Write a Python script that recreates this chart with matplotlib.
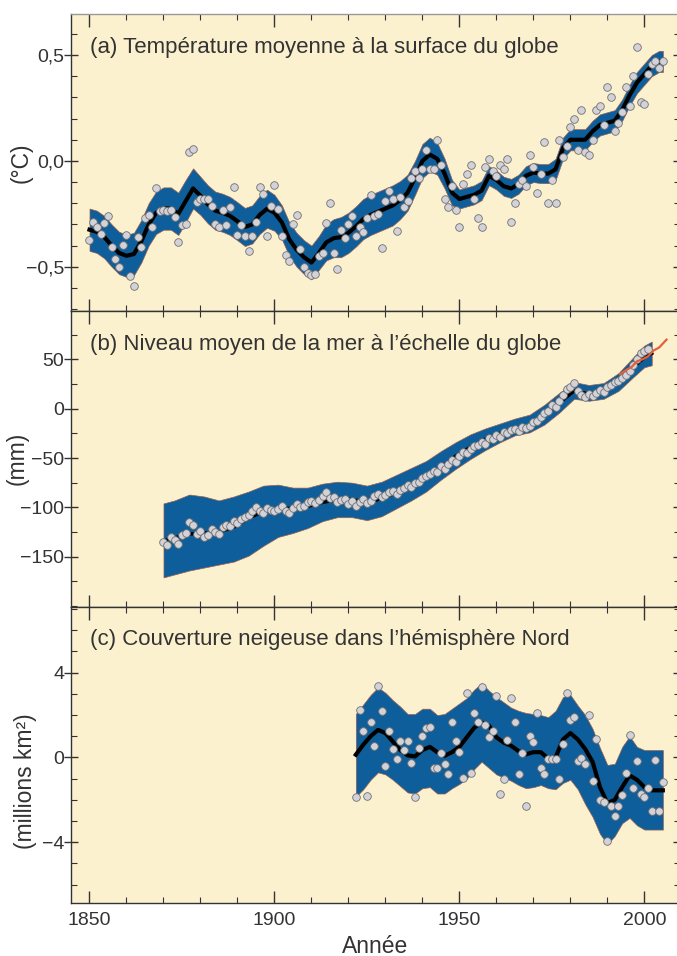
import numpy as np
import matplotlib
matplotlib.use("Agg")
import matplotlib.pyplot as plt
from matplotlib.ticker import MultipleLocator

plt.rcParams['font.family'] = ['Liberation Sans', 'DejaVu Sans']

# (a) temperature moyenne - valeurs annuelles 1850-2005 (degC)
temp_years = np.arange(1850, 2006)
temp_points = [
    -0.374, -0.288, -0.314, -0.343, -0.294, -0.262, -0.409, -0.464, -0.503, -0.398,
    -0.349, -0.542, -0.590, -0.358, -0.406, -0.272, -0.256, -0.310, -0.130, -0.236,
    -0.231, -0.236, -0.231, -0.267, -0.385, -0.303, -0.299, 0.042, 0.058, -0.193,
    -0.180, -0.180, -0.180, -0.212, -0.299, -0.310, -0.231, -0.303, -0.220, -0.123,
    -0.350, -0.303, -0.354, -0.425, -0.354, -0.288, -0.121, -0.157, -0.357, -0.212,
    -0.115, -0.228, -0.357, -0.445, -0.472, -0.296, -0.256, -0.417, -0.503, -0.531,
    -0.538, -0.535, -0.448, -0.437, -0.294, -0.197, -0.436, -0.511, -0.325, -0.362,
    -0.296, -0.262, -0.354, -0.310, -0.338, -0.27, -0.16, -0.26, -0.25, -0.41,
    -0.19, -0.14, -0.18, -0.33, -0.17, -0.22, -0.19, -0.08, -0.05, -0.08,
    -0.04, 0.05, -0.04, -0.04, 0.10, -0.02, -0.18, -0.22, -0.12, -0.23,
    -0.31, -0.11, -0.06, -0.02, -0.18, -0.27, -0.31, -0.03, 0.01, -0.05,
    -0.07, -0.02, -0.04, 0.01, -0.29, -0.20, -0.11, -0.09, -0.12, 0.03,
    -0.03, -0.15, -0.06, 0.09, -0.20, -0.09, -0.20, 0.10, 0.02, 0.07,
    0.16, 0.20, 0.05, 0.24, 0.04, 0.03, 0.10, 0.24, 0.26, 0.17,
    0.35, 0.30, 0.14, 0.18, 0.23, 0.35, 0.26, 0.40, 0.54, 0.28,
    0.27, 0.41, 0.46, 0.47, 0.44, 0.47,
]
# courbe lissee et demi-largeur de la bande d'incertitude
temp_smooth_years = [1850, 1852, 1854, 1856, 1858, 1860, 1862, 1864, 1866, 1868,
                     1870, 1872, 1874, 1876, 1878, 1880, 1882, 1884, 1886, 1888,
                     1890, 1892, 1894, 1896, 1898, 1900, 1902, 1904, 1906, 1908,
                     1910, 1912, 1914, 1916, 1918, 1920, 1922, 1924, 1926, 1928,
                     1930, 1932, 1934, 1936, 1938, 1940, 1942, 1944, 1946, 1948,
                     1950, 1952, 1954, 1956, 1958, 1960, 1962, 1964, 1966, 1968,
                     1970, 1972, 1974, 1976, 1978, 1980, 1982, 1984, 1986, 1988,
                     1990, 1992, 1994, 1996, 1998, 2000, 2002, 2004, 2005]
temp_smooth = [-0.325, -0.335, -0.36, -0.40, -0.435, -0.448, -0.44, -0.38, -0.30, -0.245,
               -0.225, -0.225, -0.25, -0.19, -0.13, -0.165, -0.205, -0.235, -0.245, -0.26,
               -0.285, -0.312, -0.30, -0.255, -0.226, -0.245, -0.29, -0.37, -0.42, -0.455,
               -0.48, -0.435, -0.385, -0.365, -0.36, -0.34, -0.31, -0.275, -0.255, -0.24,
               -0.225, -0.21, -0.185, -0.15, -0.08, 0.00, 0.03, 0.01, -0.06, -0.15,
               -0.18, -0.17, -0.16, -0.14, -0.07, -0.09, -0.12, -0.13, -0.11, -0.07,
               -0.055, -0.06, -0.06, -0.04, 0.06, 0.10, 0.10, 0.10, 0.14, 0.17,
               0.18, 0.19, 0.24, 0.31, 0.37, 0.41, 0.45, 0.47, 0.47]
temp_err = [0.10, 0.10, 0.10, 0.10, 0.10, 0.10, 0.10, 0.10, 0.10, 0.10,
            0.10, 0.10, 0.10, 0.10, 0.095, 0.09, 0.09, 0.09, 0.09, 0.09,
            0.09, 0.09, 0.09, 0.09, 0.09, 0.085, 0.08, 0.08, 0.08, 0.08,
            0.08, 0.08, 0.085, 0.09, 0.095, 0.095, 0.095, 0.095, 0.095, 0.095,
            0.095, 0.095, 0.09, 0.085, 0.08, 0.08, 0.08, 0.075, 0.07, 0.06,
            0.045, 0.045, 0.045, 0.045, 0.045, 0.045, 0.045, 0.045, 0.045, 0.045,
            0.045, 0.045, 0.045, 0.05, 0.05, 0.05, 0.05, 0.05, 0.05, 0.05,
            0.05, 0.05, 0.05, 0.05, 0.05, 0.05, 0.05, 0.05, 0.05]

# (b) niveau moyen de la mer - valeurs annuelles 1870-2001 (mm)
sea_years = np.arange(1870, 2002)
sea_points = [
    -135, -138, -130, -133, -137, -128, -126, -115, -118, -127,
    -124, -130, -128, -122, -125, -127, -120, -118, -119, -114,
    -116, -112, -110, -108, -104, -100, -104, -106, -101, -103,
    -104, -102, -99, -104, -106, -101, -97, -100, -99, -95,
    -94, -96, -93, -88, -84, -91, -90, -95, -93, -92,
    -97, -94, -99, -95, -92, -96, -94, -88, -86, -90,
    -87, -84, -83, -86, -82, -80, -77, -79, -75, -74,
    -70, -68, -66, -63, -64, -58, -61, -56, -52, -54,
    -48, -44, -45, -41, -38, -37, -34, -36, -30, -31,
    -27, -29, -24, -25, -22, -21, -23, -19, -20, -18,
    -14, -12, -8, -4, -2, 4, 2, 8, 14, 20,
    22, 26, 18, 14, 12, 15, 13, 16, 19, 17,
    22, 24, 27, 28, 31, 34, 38, 44, 50, 56,
    58, 60,
]
sea_band_years = [1870, 1873, 1877, 1881, 1885, 1889, 1893, 1897, 1901, 1905,
                  1909, 1913, 1917, 1921, 1925, 1929, 1933, 1937, 1941, 1945,
                  1949, 1953, 1957, 1961, 1965, 1969, 1973, 1977, 1981, 1985,
                  1989, 1993, 1997, 2000, 2002]
sea_smooth = [-134, -131, -127, -126, -125, -120, -111, -104, -101, -101,
              -99, -95, -92, -92, -95, -91, -85, -78, -69, -60,
              -48, -39, -31, -25, -21, -18, -7, 6, 18, 15,
              18, 28, 42, 52, 56]
sea_upper = [-96, -93, -87, -89, -93, -89, -84, -78, -77, -80,
             -80, -76, -74, -75, -78, -74, -67, -60, -53, -43,
             -34, -26, -20, -15, -10, -6, 4, 16, 27, 24,
             26, 36, 52, 64, 68]
sea_lower = [-171, -168, -164, -161, -158, -155, -149, -139, -130, -126,
             -121, -114, -110, -110, -113, -109, -101, -93, -84, -72,
             -61, -51, -42, -34, -27, -24, -16, -4, 10, 8,
             10, 18, 32, 42, 44]
# altimetrie satellitaire (trait rouge)
sat_years = [1993.5, 1995, 1996.5, 1998, 1999.5, 2001, 2002.5, 2004, 2005, 2006]
sat_level = [35, 39, 42, 48, 50, 53, 59, 62, 66, 70]

# (c) couverture neigeuse - valeurs annuelles 1922-2005 (millions km2)
snow_years = np.arange(1922, 2006)
snow_points = [
    -1.87, 2.24, 1.23, -1.84, 1.65, 0.52, 3.37, 2.17,
    -0.42, 1.25, 0.39, -0.08, 0.80, 0.33, 0.80, -0.27, -1.88, 0.44,
    1.02, 1.41, 1.43, -0.50, -0.50, 0.20, -0.31, -0.77, 1.65, 0.78,
    0.24, -0.97, 3.03, -0.74, 2.12, 1.65, 3.34, 1.54, 0.96, 1.27,
    2.90, -1.72, -1.00, 0.83, 2.82, 1.65, -0.78, 0.20, -2.31, 1.02,
    0.75, 2.12, -0.50, -0.78, -0.08, -0.08, -0.08, -1.02, 0.64, 3.03,
    1.77, 1.93, -0.19, -0.03, -0.31, 2.01, -1.10, 0.86, -1.99, -2.12,
    -3.92, -2.31, -2.78, -2.31, -1.79, -0.71, 1.07, -1.44, -0.19, -1.71,
    -1.88, -1.45, -2.51, -0.11, -2.54, -1.18,
]
snow_band_years = [1922, 1924, 1926, 1928, 1930, 1932, 1934, 1936, 1938, 1940,
                   1942, 1944, 1946, 1948, 1950, 1952, 1954, 1956, 1958, 1960,
                   1962, 1964, 1966, 1968, 1970, 1972, 1974, 1976, 1978, 1980,
                   1982, 1984, 1986, 1988, 1990, 1992, 1994, 1996, 1998, 2000,
                   2002, 2005]
snow_smooth = [0.13, 0.6, 1.0, 1.3, 1.15, 0.75, 0.35, 0.1, 0.05, 0.35,
               0.5, 0.25, 0.08, 0.25, 0.5, 0.95, 1.4, 1.65, 1.5, 0.95,
               0.7, 0.55, 0.3, 0.15, 0.25, 0.25, -0.05, 0.0, 0.85, 1.15,
               0.85, 0.4, -0.2, -1.4, -2.15, -2.0, -1.4, -0.85, -1.05, -1.4,
               -1.55, -1.55]
snow_upper = [2.05, 2.5, 2.95, 3.3, 3.05, 2.7, 2.4, 2.05, 2.05, 2.3,
              2.3, 2.0, 2.05, 2.3, 2.55, 2.8, 3.2, 3.5, 3.15, 2.85,
              2.6, 2.35, 2.2, 2.1, 2.05, 2.0, 1.9, 2.2, 2.85, 2.95,
              2.45, 2.0, 1.35, 0.45, -0.35, -0.3, 0.5, 1.0, 0.5, 0.35,
              0.35, 0.35]
snow_lower = [-1.85, -1.5, -1.05, -0.7, -0.8, -1.05, -1.35, -1.65, -1.7, -1.45,
              -1.4, -1.7, -1.7, -1.45, -1.25, -1.0, -0.55, -0.2, -0.5, -0.8,
              -0.95, -1.1, -1.3, -1.45, -1.4, -1.3, -1.45, -1.5, -1.2, -1.05,
              -1.5, -2.2, -2.8, -3.6, -4.1, -3.7, -3.1, -2.85, -3.2, -3.4,
              -3.4, -3.4]

titles = ["(a) Température moyenne à la surface du globe",
          "(b) Niveau moyen de la mer à l\u2019échelle du globe",
          "(c) Couverture neigeuse dans l\u2019hémisphère Nord"]

# couleurs
fond = '#fcf1cf'
bleu = '#0d5e9a'
texte = '#333333'

fig = plt.figure(figsize=(6.77, 9.56), dpi=100)
left, width = 71 / 677, 608.5 / 677
ax_a = fig.add_axes([left, 645 / 956, width, 297 / 956])
ax_b = fig.add_axes([left, 349.5 / 956, width, 295.5 / 956])
ax_c = fig.add_axes([left, 53.5 / 956, width, 296 / 956])


def style_axe(ax, titre):
    ax.set_facecolor(fond)
    ax.set_xlim(1845, 2009.5)
    ax.xaxis.set_major_locator(MultipleLocator(50))
    ax.xaxis.set_minor_locator(MultipleLocator(10))
    ax.tick_params(axis='x', which='both', direction='in', top=True, bottom=True,
                   color=texte, labelsize=14, labelcolor=texte, pad=7)
    ax.tick_params(axis='x', which='major', length=9, width=1)
    ax.tick_params(axis='x', which='minor', length=4, width=0.8)
    ax.tick_params(axis='y', which='major', direction='inout', length=10, width=1,
                   left=True, right=True, color=texte, labelsize=14, labelcolor=texte, pad=0)
    ax.tick_params(axis='y', which='minor', direction='in', length=4, width=0.8,
                   left=True, right=True, color=texte)
    for s in ax.spines.values():
        s.set_color(texte)
        s.set_linewidth(1)
    ax.text(0.031, 0.887, titre, transform=ax.transAxes, fontsize=16,
            color=texte, ha='left', va='center')


# (a)
style_axe(ax_a, titles[0])
ax_a.spines['top'].set_color('#999999')
t_s = np.array(temp_smooth)
t_e = np.array(temp_err)
ax_a.fill_between(temp_smooth_years, t_s - t_e, t_s + t_e, color=bleu,
                  edgecolor='#9a5f50', linewidth=0.5, zorder=2)
ax_a.plot(temp_smooth_years, temp_smooth, color='black', lw=3, zorder=3)
ax_a.plot(temp_years, temp_points, 'o', ms=5.5, mfc='#d2d2d8', mec='#707070',
          mew=0.6, zorder=4)
ax_a.set_ylim(-0.709, 0.694)
ax_a.set_yticks([-0.5, 0.0, 0.5])
ax_a.set_yticklabels(['\u22120,5', '0,0', '0,5'])
ax_a.yaxis.set_minor_locator(MultipleLocator(0.1))
ax_a.set_ylabel('(°C)', fontsize=16.5, color=texte, va='center')
ax_a.yaxis.set_label_coords(-0.082, 0.5)
ax_a.tick_params(axis='x', labelbottom=False)

# (b)
style_axe(ax_b, titles[1])
ax_b.fill_between(sea_band_years, sea_lower, sea_upper, color=bleu,
                  edgecolor='#9a5f50', linewidth=0.5, zorder=2)
ax_b.plot(sea_band_years, sea_smooth, color='black', lw=2.5, zorder=3)
ax_b.plot(sea_years, sea_points, 'o', ms=5.5, mfc='#d2d2d8', mec='#707070',
          mew=0.6, zorder=4)
ax_b.plot(sat_years, sat_level, color='#e4603c', lw=1.6, zorder=5)
ax_b.set_ylim(-200.5, 99)
ax_b.set_yticks([-150, -100, -50, 0, 50])
ax_b.set_yticklabels(['\u2212150', '\u2212100', '\u221250', '0', '50'])
ax_b.yaxis.set_minor_locator(MultipleLocator(25))
ax_b.set_ylabel('(mm)', fontsize=16.5, color=texte, va='center')
ax_b.yaxis.set_label_coords(-0.088, 0.5)
ax_b.tick_params(axis='x', labelbottom=False)

# (c)
style_axe(ax_c, titles[2])
ax_c.fill_between(snow_band_years, snow_lower, snow_upper, color=bleu,
                  edgecolor='#9a5f50', linewidth=0.5, zorder=2)
ax_c.plot(snow_band_years, snow_smooth, color='black', lw=3, zorder=3)
ax_c.plot(snow_years, snow_points, 'o', ms=5.5, mfc='#d2d2d8', mec='#707070',
          mew=0.6, zorder=4)
ax_c.set_ylim(-6.84, 7.12)
ax_c.set_yticks([-4, 0, 4])
ax_c.set_yticklabels(['\u22124', '0', '4'])
ax_c.yaxis.set_minor_locator(MultipleLocator(1))
ax_c.set_ylabel('(millions km²)', fontsize=16.5, color=texte, va='center')
ax_c.yaxis.set_label_coords(-0.075, 0.41)
ax_c.set_xlabel('Année', fontsize=16.5, color=texte, labelpad=4)

fig.savefig('out.png', dpi=100, facecolor='white')
